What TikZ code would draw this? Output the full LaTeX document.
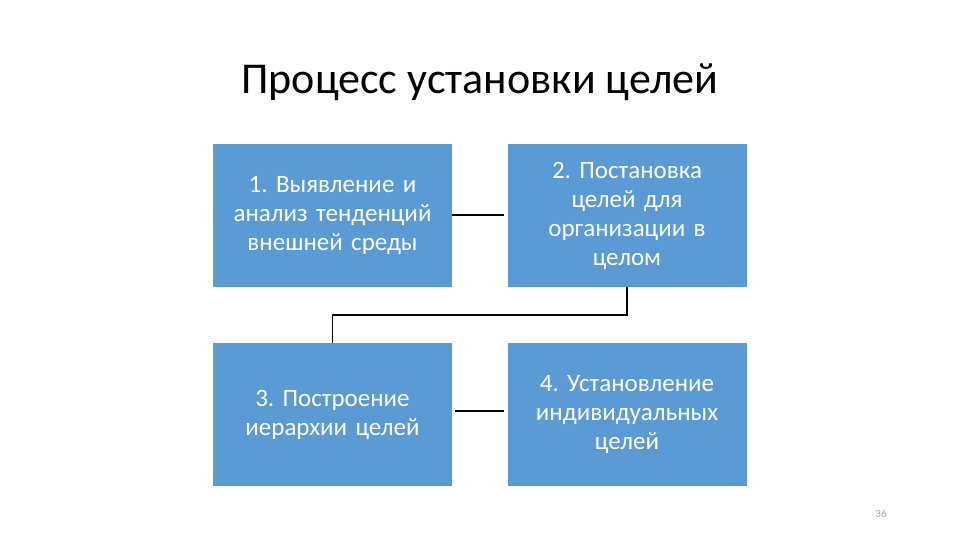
\documentclass[tikz,border=0pt]{standalone}
\usepackage{fontspec}
\setmainfont{Carlito}
\definecolor{boxblue}{HTML}{5B9BD5}
\begin{document}
\frenchspacing
\begin{tikzpicture}[x=1pt,y=-1pt,
  stepbox/.style={fill=boxblue,draw=none,minimum width=239pt,minimum height=143pt,
    text=white,align=center,text width=235pt,font=\fontsize{25}{29}\selectfont,inner sep=0pt},
  link/.style={draw=black,line width=1.8pt}]
\useasboundingbox (0,0) rectangle (960,540);
\node[font=\fontsize{44}{50}\selectfont] (title) at (480,82) {Процесс установки целей};
\node[stepbox] (b1) at (332.5,215.5) {1. Выявление и\\анализ тенденций\\внешней среды};
\node[stepbox] (b2) at (627,215.5) {2. Постановка\\целей для\\организации в\\целом};
\node[stepbox] (b3) at (332.5,414.5) {3. Построение\\иерархии целей};
\node[stepbox] (b4) at (627,414.5) {4. Установление\\индивидуальных\\целей};
\coordinate (c1) at (504,215);
\coordinate (c2) at (504,411);
\coordinate (k1) at (627,315);
\coordinate (k2) at (332.5,315);
\draw[link] (b1.east |- c1) -- (c1);
\draw[link] (b3.east |- c2) ++(3,0) -- (c2);
\draw[link] (b2.south) -- (k1) -- (k2) -- (b3.north);
\node[text=gray!70,font=\fontsize{11}{12}\selectfont] (pg) at (881,514) {36};
\end{tikzpicture}
\end{document}
